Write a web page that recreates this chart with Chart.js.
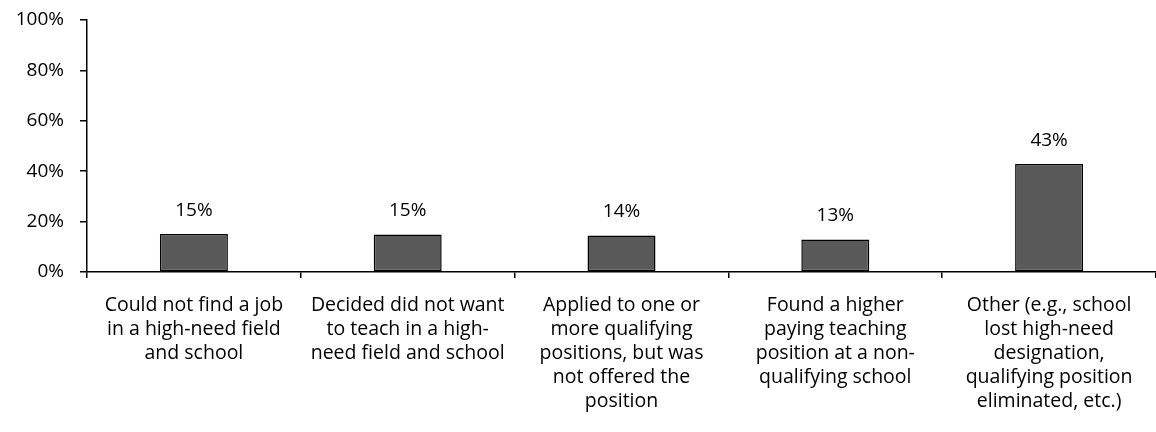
<!DOCTYPE html>
<html>
<head>
<meta charset="utf-8">
<script src="https://cdn.jsdelivr.net/npm/chart.js@4/dist/chart.umd.min.js"></script>
<style>
  html, body { margin: 0; padding: 0; background: #fff; }
  #wrap { width: 1156px; height: 432px; }
</style>
</head>
<body>
<div id="wrap"><canvas id="chart" width="1156" height="432"></canvas></div>
<script>
// categories, one array of lines per label
const categories = [
  ['Could not find a job', 'in a high-need field', 'and school'],
  ['Decided did not want', 'to teach in a high-', 'need field and school'],
  ['Applied to one or', 'more qualifying', 'positions, but was', 'not offered the', 'position'],
  ['Found a higher', 'paying teaching', 'position at a non-', 'qualifying school'],
  ['Other (e.g., school', 'lost high-need', 'designation,', 'qualifying position', 'eliminated, etc.)'],
];
const values = [15.1, 14.9, 14.5, 12.9, 42.9];
const valueLabels = ['15%', '15%', '14%', '13%', '43%'];
const yTicks = [0, 20, 40, 60, 80, 100];

const FONT = "'Open Sans', Lato, 'Liberation Sans', sans-serif";

// value labels above bars
const barLabels = {
  id: 'barLabels',
  afterDatasetsDraw(chart) {
    const ctx = chart.ctx;
    const meta = chart.getDatasetMeta(0);
    ctx.save();
    ctx.font = '19px ' + FONT;
    ctx.fillStyle = '#000';
    ctx.textAlign = 'center';
    ctx.textBaseline = 'alphabetic';
    meta.data.forEach((bar, i) => {
      ctx.fillText(valueLabels[i], bar.x, bar.y - 18);
    });
    ctx.restore();
  }
};

new Chart(document.getElementById('chart'), {
  type: 'bar',
  data: {
    labels: categories,
    datasets: [{
      data: values,
      backgroundColor: '#595959',
      borderColor: '#000',
      borderWidth: 1.5,
      borderSkipped: false,
      categoryPercentage: 1,
      barPercentage: 0.318,
    }]
  },
  options: {
    responsive: false,
    animation: false,
    layout: { padding: { top: 20, right: 0, left: 0, bottom: 0 } },
    plugins: { legend: { display: false }, tooltip: { enabled: false } },
    scales: {
      x: {
        grid: { drawOnChartArea: false, offset: true, color: '#000', tickLength: 6, lineWidth: 1.5 },
        border: { color: '#000', width: 1.5 },
        ticks: {
          color: '#000', font: { family: FONT, size: 19.5, lineHeight: 24 / 19.5 },
          padding: 15, maxRotation: 0, autoSkip: false,
        },
        afterFit: s => { s.height = 160; s.paddingLeft = 0; s.paddingRight = 0; },
      },
      y: {
        min: 0, max: 100,
        afterBuildTicks: s => { s.ticks = yTicks.map(v => ({ value: v })); },
        grid: { drawOnChartArea: false, color: '#000', tickLength: 7, lineWidth: 1.5 },
        border: { color: '#000', width: 1.5 },
        ticks: {
          color: '#000', font: { family: FONT, size: 19 }, padding: 16,
          callback: v => v + '%',
        },
        afterFit: s => { s.width = 87; s.paddingTop = 0; s.paddingBottom = 0; },
      }
    }
  },
  plugins: [barLabels]
});
</script>
</body>
</html>
